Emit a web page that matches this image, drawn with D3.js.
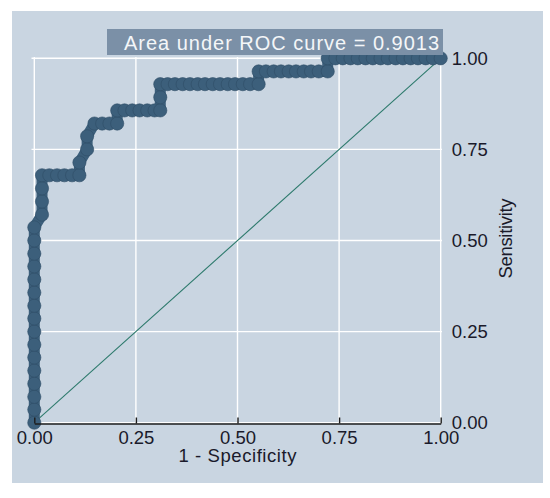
<!DOCTYPE html>
<html>
<head>
<meta charset="utf-8">
<script src="https://cdn.jsdelivr.net/npm/d3@7"></script>
<style>
  html, body { margin: 0; padding: 0; background: #ffffff; }
  svg { display: block; }
  text { font-family: "Liberation Sans", Arial, sans-serif; }
</style>
</head>
<body>
<svg id="chart" width="550" height="498"></svg>
<script>
// ROC curve points (1 - specificity, sensitivity)
const fpr = [
  0,0,0,0,0,0,0,0,0,0,0,0,0,0,0,0,
  0.019,0.019,0.019,0.019,
  0.037,0.056,0.074,0.093,0.111,
  0.111,
  0.130,0.130,
  0.148,0.167,0.185,0.204,
  0.204,0.222,0.241,0.259,0.278,0.296,0.310,
  0.310,
  0.310,0.328,0.346,0.365,0.383,0.402,0.420,0.439,0.457,0.476,0.494,0.513,0.531,0.552,
  0.552,0.570,0.589,0.607,0.626,0.644,0.663,0.681,0.700,0.722,
  0.722,0.741,0.759,0.778,0.796,0.815,0.833,0.852,0.870,0.889,0.907,0.926,0.944,0.963,0.981,1.000
];
const tpr = [
  0.000,0.036,0.071,0.107,0.143,0.179,0.214,0.250,0.286,0.321,0.357,0.393,0.429,0.464,0.500,0.536,
  0.571,0.607,0.643,0.679,
  0.679,0.679,0.679,0.679,0.679,
  0.714,
  0.750,0.786,
  0.821,0.821,0.821,0.821,
  0.857,0.857,0.857,0.857,0.857,0.857,0.857,
  0.893,
  0.929,0.929,0.929,0.929,0.929,0.929,0.929,0.929,0.929,0.929,0.929,0.929,0.929,0.929,
  0.964,0.964,0.964,0.964,0.964,0.964,0.964,0.964,0.964,0.964,
  1.000,1.000,1.000,1.000,1.000,1.000,1.000,1.000,1.000,1.000,1.000,1.000,1.000,1.000,1.000,1.000
];
const tickValues = [0, 0.25, 0.5, 0.75, 1];
const tickLabels = ["0.00", "0.25", "0.50", "0.75", "1.00"];
const aucText = "Area under ROC curve = 0.9013";
const xTitle = "1 - Specificity";
const yTitle = "Sensitivity";

const svg = d3.select("#chart");
const x = d3.scaleLinear().domain([0, 1]).range([34.3, 440.7]);
const y = d3.scaleLinear().domain([0, 1]).range([422.7, 58.3]);

// panel background
svg.append("rect").attr("x", 12).attr("y", 11).attr("width", 531).attr("height", 472)
  .attr("fill", "#c9d5e1");

// gridlines
const grid = svg.append("g").attr("stroke", "#ffffff").attr("stroke-width", 1.4);
grid.selectAll("line.h").data(tickValues).join("line").attr("class", "h")
  .attr("x1", 31.5).attr("x2", 442).attr("y1", d => y(d)).attr("y2", d => y(d));
grid.selectAll("line.v").data(tickValues).join("line").attr("class", "v")
  .attr("x1", d => x(d)).attr("x2", d => x(d)).attr("y1", 57).attr("y2", y(0));

// reference diagonal
svg.append("line").attr("x1", x(0)).attr("y1", y(0)).attr("x2", x(1)).attr("y2", y(1))
  .attr("stroke", "#2d7a6c").attr("stroke-width", 1.1);

// ROC curve
const pts = fpr.map((f, i) => [f, tpr[i]]);
const line = d3.line().x(d => x(d[0])).y(d => y(d[1]));
const curveColor = "#3c5f7b";
svg.append("path").attr("d", line(pts)).attr("fill", "none")
  .attr("stroke", curveColor).attr("stroke-width", 11)
  .attr("stroke-linejoin", "round").attr("stroke-linecap", "round");
svg.append("g").selectAll("circle").data(pts).join("circle")
  .attr("cx", d => x(d[0])).attr("cy", d => y(d[1])).attr("r", 6.6)
  .attr("fill", curveColor).attr("stroke", "#2f4d66").attr("stroke-width", 0.6);

// bottom axis
const xAxis = d3.axisBottom(x).tickValues(tickValues)
  .tickFormat((d, i) => tickLabels[i]).tickSize(-6).tickSizeOuter(0).tickPadding(7);
const gx = svg.append("g").attr("transform", `translate(0,${y(0) + 0.8})`).call(xAxis);
gx.select(".domain").attr("stroke", "#1c1c1c").attr("stroke-width", 1.6);
gx.selectAll(".tick line").attr("stroke", "#1c1c1c").attr("stroke-width", 1.4);
gx.selectAll(".tick text").attr("font-size", "18.5px").attr("fill", "#1a1a2a")
  .attr("font-family", "Liberation Sans, Arial, sans-serif");

// right axis (labels only)
const yAxis = d3.axisRight(y).tickValues(tickValues)
  .tickFormat((d, i) => tickLabels[i]).tickSize(0).tickPadding(11);
const gy = svg.append("g").attr("transform", `translate(${x(1)},0)`).call(yAxis);
gy.select(".domain").remove();
gy.selectAll(".tick text").attr("font-size", "18.5px").attr("fill", "#1a1a2a")
  .attr("font-family", "Liberation Sans, Arial, sans-serif");

// axis titles
svg.append("text").attr("x", 237.5).attr("y", 462).attr("text-anchor", "middle")
  .attr("font-size", "18.5px").attr("fill", "#1a1a2a")
  .attr("textLength", 118).attr("lengthAdjust", "spacing").text(xTitle);
svg.append("text").attr("transform", "translate(511.5,238.5) rotate(-90)")
  .attr("text-anchor", "middle").attr("font-size", "18.5px").attr("fill", "#1a1a2a")
  .attr("textLength", 80).attr("lengthAdjust", "spacing").text(yTitle);

// AUC box
svg.append("rect").attr("x", 107).attr("y", 29).attr("width", 336).attr("height", 26)
  .attr("fill", "#7b90a7");
svg.append("text").attr("x", 124).attr("y", 50).attr("font-size", "20px")
  .attr("fill", "#f4f6f8").attr("textLength", 315).attr("lengthAdjust", "spacing")
  .text(aucText);
</script>
</body>
</html>
